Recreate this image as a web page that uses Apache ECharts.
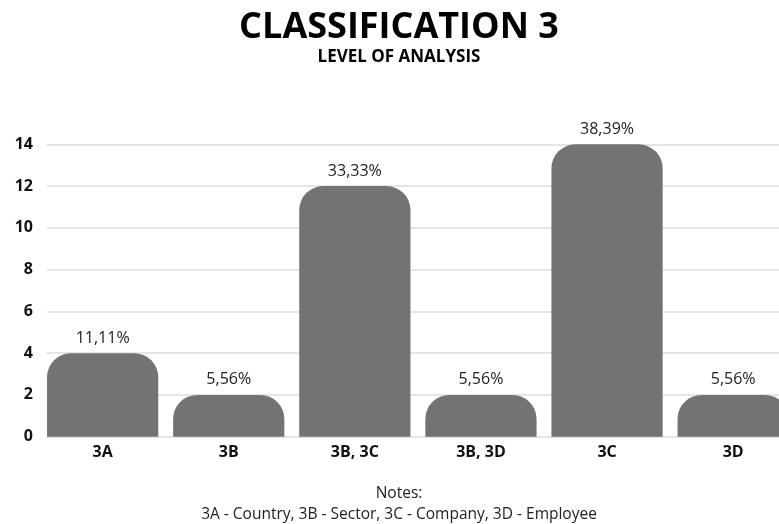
<!DOCTYPE html>
<html>
<head>
<meta charset="utf-8">
<script src="https://cdn.jsdelivr.net/npm/echarts@6/dist/echarts.min.js"></script>
<style>
  html, body { margin: 0; padding: 0; background: #fff; }
  #chart { width: 779px; height: 524px; }
</style>
</head>
<body>
<div id="chart"></div>
<script>
// Level of analysis counts (classification 3)
const categories = ['3A', '3B', '3B, 3C', '3B, 3D', '3C', '3D'];
const counts = [4, 2, 12, 2, 14, 2];
const shareLabels = ['11,11%', '5,56%', '33,33%', '5,56%', '38,39%', '5,56%'];
const yTicks = [0, 2, 4, 6, 8, 10, 12, 14];

const FONT = '"Open Sans", "Noto Sans", sans-serif';
const gridTop = 144.3;
const gridBottom = 87.3;
const textCenter = 399;

const chart = echarts.init(document.getElementById('chart'), null, { renderer: 'canvas' });

chart.setOption({
  animation: false,
  backgroundColor: '#ffffff',
  graphic: [
    {
      type: 'text',
      x: textCenter,
      y: 10,
      style: {
        text: 'CLASSIFICATION 3',
        align: 'center', verticalAlign: 'top',
        fontFamily: FONT, fontWeight: 'bold', fontSize: 36, fill: '#000'
      }
    },
    {
      type: 'text',
      x: textCenter,
      y: 49,
      style: {
        text: 'LEVEL OF ANALYSIS',
        align: 'center', verticalAlign: 'top',
        fontFamily: FONT, fontWeight: 'bold', fontSize: 17, fill: '#000'
      }
    },
    {
      type: 'text',
      x: textCenter,
      y: 483,
      style: {
        text: 'Notes:\n3A - Country, 3B - Sector, 3C - Company, 3D - Employee',
        align: 'center',
        verticalAlign: 'top',
        fontFamily: FONT,
        fontSize: 15.5,
        lineHeight: 21,
        fill: '#222'
      }
    }
  ],
  grid: [
    // bars (the last band runs past the right edge)
    { left: 39.6, width: 756.6, top: gridTop, bottom: gridBottom, containLabel: false, outerBoundsMode: 'none' },
    // grid lines and y-axis labels
    { left: 47, right: 0, top: gridTop, bottom: gridBottom, containLabel: false, outerBoundsMode: 'none' }
  ],
  xAxis: [
    {
      type: 'category',
      gridIndex: 0,
      data: categories,
      axisTick: { show: false },
      axisLine: { show: false },
      axisLabel: { fontFamily: FONT, fontWeight: 'bold', fontSize: 16, color: '#111', margin: 8 }
    },
    {
      type: 'value',
      gridIndex: 1,
      show: false
    }
  ],
  yAxis: [
    {
      type: 'value',
      gridIndex: 0,
      min: 0, max: 14, interval: 2,
      axisLabel: { show: false },
      axisLine: { show: false },
      axisTick: { show: false },
      splitLine: { show: false }
    },
    {
      type: 'value',
      gridIndex: 1,
      min: yTicks[0], max: yTicks[yTicks.length - 1], interval: 2,
      axisLabel: { fontFamily: FONT, fontWeight: 'bold', fontSize: 16, color: '#111', margin: 14 },
      axisLine: { show: false },
      axisTick: { show: false },
      splitLine: { show: true, lineStyle: { color: '#dcdcdc', width: 1.5 } }
    }
  ],
  series: [
    {
      type: 'bar',
      xAxisIndex: 0,
      yAxisIndex: 0,
      data: counts,
      barCategoryGap: '11.8%',
      itemStyle: { color: '#737373', borderRadius: [24, 24, 0, 0] },
      label: {
        show: true,
        position: 'top',
        distance: 7,
        fontFamily: FONT,
        fontSize: 16,
        color: '#222',
        formatter: p => shareLabels[p.dataIndex]
      }
    }
  ]
});
</script>
</body>
</html>
